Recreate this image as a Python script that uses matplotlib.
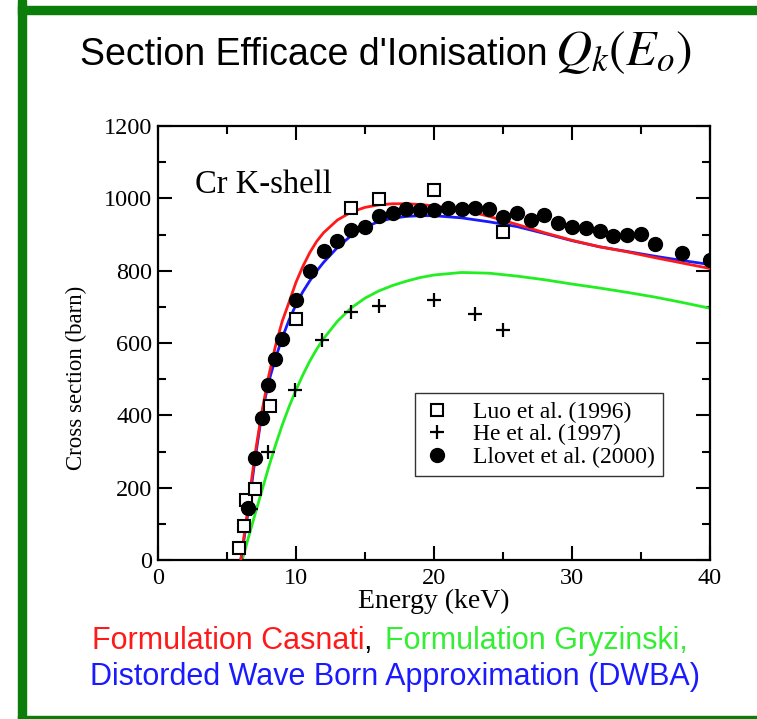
import matplotlib
matplotlib.use("Agg")
import matplotlib.pyplot as plt
from matplotlib.patches import Rectangle
from matplotlib.ticker import MultipleLocator

# Measured K-shell ionisation cross sections of Cr (barn) vs electron energy (keV)
luo_E = [5.9, 6.25, 6.4, 7.05, 8.1, 10.0, 14.0, 16.0, 20.0, 25.0]
luo_Q = [32, 94, 165, 197, 425, 665, 973, 997, 1022, 908]

he_E = [6.75, 7.95, 9.9, 11.9, 14.0, 16.0, 20.0, 23.0, 25.0]
he_Q = [140, 300, 470, 608, 687, 703, 720, 680, 637]

llovet_E = [6.5, 7.0, 7.5, 8.0, 8.5, 9.0, 10.0, 11.0, 12.0, 13.0, 14.0, 15.0,
            16.0, 17.0, 18.0, 19.0, 20.0, 21.0, 22.0, 23.0, 24.0, 25.0, 26.0,
            27.0, 28.0, 29.0, 30.0, 31.0, 32.0, 33.0, 34.0, 35.0, 36.0, 38.0, 40.0]
llovet_Q = [143, 282, 392, 485, 557, 610, 720, 799, 855, 882, 913, 920,
            951, 960, 970, 968, 968, 974, 970, 974, 970, 948, 959,
            939, 954, 931, 922, 917, 910, 897, 899, 902, 874, 849, 830]

# Theoretical curves
casnati_E = [6.0, 6.25, 6.5, 6.75, 7.0, 7.5, 8.0, 8.5, 9.0, 9.5, 10.0, 10.5, 11.0,
             11.5, 12.0, 13.0, 14.0, 15.0, 16.0, 17.0, 18.0, 19.0, 20.0, 22.0,
             24.0, 26.0, 28.0, 30.0, 32.0, 34.0, 36.0, 38.0, 40.0]
casnati_Q = [0, 70, 138, 212, 285, 404, 505, 590, 660, 713, 768, 812, 850,
             881, 905, 940, 962, 975, 982, 985, 985, 983, 979, 969,
             950, 928, 905, 884, 866, 852, 836, 821, 806]

dwba_E = [6.0, 6.5, 7.0, 7.5, 8.0, 8.5, 9.0, 9.5, 10.0, 10.5, 11.0, 11.5, 12.0,
          13.0, 14.0, 15.0, 16.0, 17.0, 18.0, 19.0, 20.0, 22.0, 24.0, 26.0,
          28.0, 30.0, 32.0, 34.0, 36.0, 38.0, 40.0]
dwba_Q = [0, 125, 270, 398, 490, 556, 614, 664, 706, 742, 772, 799, 823,
          864, 897, 920, 936, 945, 950, 952, 952, 946, 935, 922,
          903, 883, 866, 853, 840, 828, 817]

gryz_E = [6.1, 6.5, 7.0, 7.5, 8.0, 8.5, 9.0, 9.5, 10.0, 10.5, 11.0, 11.5, 12.0,
          13.0, 14.0, 15.0, 16.0, 17.0, 18.0, 19.0, 20.0, 22.0, 24.0, 26.0,
          28.0, 30.0, 32.0, 34.0, 36.0, 38.0, 40.0]
gryz_Q = [0, 55, 122, 188, 254, 316, 373, 424, 470, 512, 550, 583, 612,
          660, 697, 724, 744, 759, 771, 781, 788, 795, 793, 785,
          775, 763, 752, 740, 727, 712, 696]

legend_labels = ["Luo et al. (1996)", "He et al. (1997)", "Llovet et al. (2000)"]

W, H = 757, 719
fig = plt.figure(figsize=(W / 100, H / 100), dpi=100)
fig.patch.set_facecolor("white")


def fx(px):
    return px / W


def fy(py):
    return 1 - py / H


# Green slide frame (left, top, bottom)
frame_green = "#0a7d0a"
fig.add_artist(Rectangle((fx(18), fy(719)), fx(8), 1, transform=fig.transFigure,
                         color=frame_green, zorder=0))
fig.add_artist(Rectangle((fx(18), fy(14)), 1, fy(6) - fy(14), transform=fig.transFigure,
                         color=frame_green, zorder=0))
fig.add_artist(Rectangle((fx(18), fy(719)), 1, 3 / H, transform=fig.transFigure,
                         color=frame_green, zorder=0))

serif = ["Liberation Serif", "DejaVu Serif"]
sans = ["Liberation Sans", "DejaVu Sans"]
plt.rcParams["mathtext.fontset"] = "stix"

ax = fig.add_axes([fx(158), fy(560), fx(710) - fx(158), fy(126) - fy(560)])
ax.set_xlim(0, 40)
ax.set_ylim(0, 1200)

lw = 2.0
ax.plot(gryz_E, gryz_Q, color="#22ee22", lw=lw, zorder=2)
ax.plot(dwba_E, dwba_Q, color="#1a1aff", lw=lw, zorder=2)
ax.plot(casnati_E, casnati_Q, color="#ff1a1a", lw=lw, zorder=3)

h1, = ax.plot(luo_E, luo_Q, ls="none", marker="s", ms=8, mfc="white", mec="black",
              mew=1.5, zorder=4)
h2, = ax.plot(he_E, he_Q, ls="none", marker="+", ms=10, mec="black", mew=1.6, zorder=4)
h3, = ax.plot(llovet_E, llovet_Q, ls="none", marker="o", ms=10, mfc="black", mec="black",
              zorder=4)

ax.xaxis.set_major_locator(MultipleLocator(10))
ax.xaxis.set_minor_locator(MultipleLocator(5))
ax.yaxis.set_major_locator(MultipleLocator(200))
ax.yaxis.set_minor_locator(MultipleLocator(100))
ax.tick_params(which="both", direction="in", top=True, right=True, width=1.5)
ax.tick_params(which="major", length=10)
ax.tick_params(which="minor", length=5.5)
ax.tick_params(axis="x", which="major", pad=6)
ax.tick_params(axis="y", which="major", pad=4)
for s in ax.spines.values():
    s.set_linewidth(1.6)
for lab in ax.get_xticklabels() + ax.get_yticklabels():
    lab.set_family(serif)
    lab.set_fontsize(17.5)

ax.set_xlabel("Energy (keV)", family=serif, fontsize=20, labelpad=0)
ax.set_ylabel("Cross section (barn)", family=serif, fontsize=16.5)
ax.yaxis.set_label_coords(-0.128, 0.42)

ax.text(0.067, 0.864, "Cr K-shell", transform=ax.transAxes, family=serif,
        fontsize=23.5, va="center", ha="left")

leg = ax.legend([h1, h2, h3], legend_labels, loc="upper left",
                bbox_to_anchor=(0.4656, 0.3848), borderaxespad=0,
                prop={"family": serif, "size": 17}, frameon=True, fancybox=False,
                edgecolor="black", labelspacing=0.05, handlelength=1.2,
                handletextpad=0.9, borderpad=0.35)
leg.get_frame().set_linewidth(1.0)

# Slide title
fig.text(fx(80), fy(55), "Section Efficace d'Ionisation", family=sans, fontsize=27,
         va="center", ha="left")
fig.text(fx(555), fy(52), r"$Q_k(E_o)$", fontsize=36, va="center", ha="left")

# Caption naming the curves
cap_size = 22
t1 = fig.text(fx(92), fy(641), "Formulation Casnati", family=sans, fontsize=cap_size,
              color="#ff1a1a", va="center", ha="left")
fig.canvas.draw()
r = fig.canvas.get_renderer()
bb = t1.get_window_extent(r)
t2 = fig.text(bb.x1 / W, fy(641), ", ", family=sans, fontsize=cap_size, color="black",
              va="center", ha="left")
bb2 = t2.get_window_extent(r)
fig.text(bb2.x1 / W + 0.005, fy(641), "Formulation Gryzinski,", family=sans,
         fontsize=cap_size, color="#33ee33", va="center", ha="left")
fig.text(fx(395), fy(677), "Distorded Wave Born Approximation (DWBA)", family=sans,
         fontsize=cap_size, color="#1a1aff", va="center", ha="center")

fig.savefig("out.png", dpi=100)
